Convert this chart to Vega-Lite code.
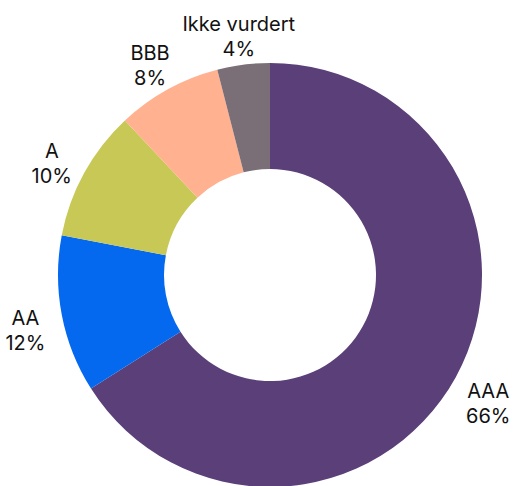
{
  "$schema": "https://vega.github.io/schema/vega-lite/v6.json",
  "autosize": "none",
  "width": 490,
  "height": 422,
  "padding": {"left": 25, "top": 64, "right": 0, "bottom": 0},
  "background": "white",
  "data": {
    "values": [
      {"category": "AAA", "value": 66, "rank": 1},
      {"category": "AA", "value": 12, "rank": 2},
      {"category": "A", "value": 10, "rank": 3},
      {"category": "BBB", "value": 8, "rank": 4},
      {"category": "Ikke vurdert", "value": 4, "rank": 5}
    ]
  },
  "transform": [
    {"calculate": "datum.category + '\\n' + datum.value + '%'", "as": "label"}
  ],
  "encoding": {
    "theta": {"field": "value", "type": "quantitative", "stack": true},
    "order": {"field": "rank", "type": "quantitative"}
  },
  "layer": [
    {
      "mark": {"type": "arc", "outerRadius": 212, "innerRadius": 106},
      "encoding": {
        "color": {
          "field": "category",
          "type": "nominal",
          "scale": {
            "domain": ["AAA", "AA", "A", "BBB", "Ikke vurdert"],
            "range": ["#5a3f78", "#0569f0", "#c8c857", "#ffb190", "#7a6f76"]
          },
          "legend": null
        }
      }
    },
    {
      "mark": {
        "type": "text",
        "radius": 249,
        "lineBreak": "\n",
        "font": "Inter",
        "fontSize": 20,
        "lineHeight": 25,
        "color": "#111111",
        "align": "center",
        "baseline": "middle",
        "dy": -3
      },
      "encoding": {
        "text": {"field": "label", "type": "nominal"}
      }
    }
  ]
}
